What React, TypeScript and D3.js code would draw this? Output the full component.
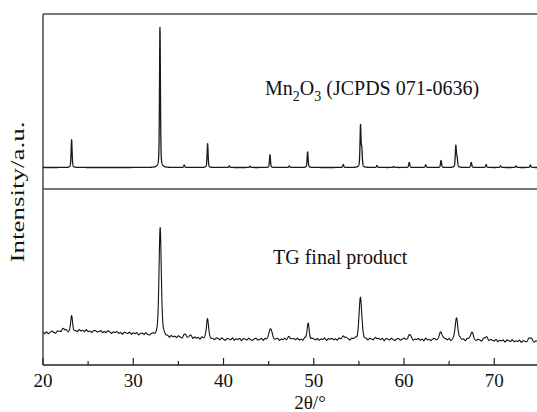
import React, { useMemo } from "react";
import * as d3 from "d3";

// ---- axis data ----
const xDomain = [20, 75];
const xMajorTicks = [20, 30, 40, 50, 60, 70];
const xMinorTicks = [25, 35, 45, 55, 65, 75];

// ---- Mn2O3 reference pattern (JCPDS 071-0636): peak positions (2θ) and relative intensities ----
const refPeakPos = [23.17, 32.96, 35.65, 38.24, 40.64, 42.93, 45.15, 47.29, 49.32, 53.27, 55.18, 55.32, 57.0, 58.85, 60.58, 62.4, 64.1, 65.74, 65.88, 67.45, 69.1, 70.7, 72.4, 74.0];
const refPeakInt = [19.8, 100, 1.8, 17, 1.1, 0.9, 9.1, 1.1, 11.2, 2.1, 29.5, 12, 1.4, 0.7, 3.6, 1.8, 5, 15.2, 6.5, 3.6, 2.1, 1.1, 1.1, 1.8];
const refPeakFwhm = [0.13, 0.12, 0.13, 0.13, 0.13, 0.13, 0.13, 0.13, 0.13, 0.13, 0.13, 0.13, 0.13, 0.13, 0.14, 0.14, 0.14, 0.14, 0.14, 0.14, 0.14, 0.14, 0.14, 0.14];

// ---- TG final product: peaks, background, noise ----
const prodPeakPos = [22.3, 23.17, 32.98, 35.7, 36.3, 38.22, 45.2, 47.3, 49.38, 53.3, 55.17, 57.0, 60.6, 64.1, 65.82, 67.5, 69.1, 74.0];
const prodPeakInt = [2, 14.5, 108, 2.5, 1.5, 20.5, 11.5, 3, 16, 3.5, 43, 1.5, 4.5, 7.5, 22.5, 7.5, 3.5, 4];
const prodPeakFwhm = [0.5, 0.24, 0.3, 0.35, 0.35, 0.26, 0.36, 0.35, 0.28, 0.35, 0.34, 0.35, 0.4, 0.4, 0.34, 0.4, 0.4, 0.45];

const prodBgPos = [20, 22, 24, 26, 28, 30, 31, 32, 34, 36, 38, 40, 44, 50, 54, 56, 60, 64, 68, 72, 75];
const prodBgInt = [11.7, 13.5, 14.2, 13.5, 12.5, 11.5, 11, 10, 8, 7.5, 6.5, 5.8, 5.5, 5.5, 5.8, 5.5, 5.5, 5.2, 4.8, 4, 3];

// noise, one value every 0.2° from 20°
const prodNoise = [
  0.8, -0.6, 1.2, -1.1, 0.3, 1.5, -0.4, -1.3, 0.9, 0.2, -0.8, 1.4, -0.2, 0.6, -1.5, 0.4, 1.1, -0.7, 0.1, -1.2,
  1.3, -0.3, 0.7, -0.9, 1.6, -0.5, 0.2, -1.4, 0.8, 1.0, -0.6, -0.1, 1.2, -1.0, 0.5, -0.8, 1.5, 0.3, -1.3, 0.6,
  -0.2, 1.1, -0.9, 0.4, -1.6, 0.9, 0.1, -0.5, 1.3, -1.1, 0.7, -0.3, 1.0, -1.4, 0.2, 0.8, -0.7, 1.4, -0.4, -1.0,
  0.6, 1.2, -0.8, 0.3, -1.2, 0.9, -0.1, 1.5, -0.6, 0.4, -1.3, 1.1, -0.2, 0.7, -0.9, 1.3, 0.0, -1.5, 0.5, 1.0,
  -0.7, 0.2, 1.4, -1.1, 0.8, -0.4, 0.6, -1.3, 1.2, -0.3, 0.9, -0.8, 1.6, -0.5, 0.1, -1.2, 1.0, 0.4, -0.9, 1.3,
  -0.1, -1.4, 0.7, 0.3, -0.6, 1.5, -1.0, 0.5, -0.2, 1.1, -1.5, 0.8, 0.2, -0.7, 1.4, -0.4, -1.1, 0.6, 1.2, -0.8,
  0.0, 1.0, -1.3, 0.9, -0.3, 0.5, -1.0, 1.6, -0.6, 0.3, 1.1, -1.2, 0.4, -0.5, 1.3, -0.9, 0.7, -1.4, 0.2, 0.8,
  -0.4, 1.2, -0.8, 0.1, -1.1, 1.4, -0.2, 0.6, -1.5, 0.9, 0.3, -0.7, 1.0, -1.0, 0.5, -0.3, 1.5, -1.3, 0.8, -0.1,
  1.1, -0.6, 0.4, -1.2, 1.3, -0.4, 0.0, -0.9, 1.4, 0.2, -1.4, 0.7, -0.2, 1.0, -0.8, 0.6, -1.1, 1.2, -0.5, 0.3,
  -1.3, 0.9, 0.1, -0.7, 1.5, -1.0, 0.4, -0.3, 1.1, -1.5, 0.8, 0.5, -0.6, 1.3, -0.2, -1.2, 0.7, 1.0, -0.9, 0.2,
  1.4, -0.5, -1.1, 0.6, 0.9, -1.3, 0.3, -0.1, 1.2, -0.8, 0.5, -1.4, 1.6, -0.3, 0.1, -1.0, 0.8, 1.1, -0.7, -0.2,
  1.3, -1.2, 0.4, 0.7, -0.6, 1.0, -1.5, 0.2, 0.9, -0.4, -1.0, 1.5, -0.1, 0.6, -1.3, 1.1, 0.3, -0.8, 1.2, -0.5,
  -0.9, 0.8, 0.0, -1.4, 1.4, -0.3, 0.5, -1.1, 1.0, 0.2, -0.7, 1.3, -1.2, 0.4, -0.2, 0.9, -1.5, 1.1, 0.1, -0.6,
  1.5, -0.9, 0.3, -0.4, 1.2, -1.3, 0.7, 0.0, -1.0, 1.1, -0.5, 0.6, -1.2, 0.8, 0.4, -0.8
];

const labels = {
  refName: "(JCPDS 071-0636)",
  prodName: "TG final product",
  xTitle: "2θ/°",
  yTitle: "Intensity/a.u.",
};

function pseudoVoigt(x: number, c: number, h: number, w: number, eta: number) {
  const d = (x - c) / (w / 2);
  const L = 1 / (1 + d * d);
  const G = Math.exp(-Math.LN2 * d * d);
  return h * (eta * L + (1 - eta) * G);
}

const FONT = "'Liberation Serif', 'Times New Roman', Times, serif";

export default function App() {
  const W = 537;
  const H = 412;
  const left = 43;
  const plotTop = 14;
  const divider = 189;
  const bottom = 365;

  const x = d3.scaleLinear().domain(xDomain).range([left, 539.4]);
  const yTop = d3.scaleLinear().domain([0, 100]).range([167.5, 27.5]);
  const yBot = d3.scaleLinear().domain([0, 120]).range([345, 225]);

  const { topPath, botPath } = useMemo(() => {
    const xs = d3.range(xDomain[0], xDomain[1] + 1e-9, 0.01);
    const topPts: [number, number][] = xs.map((t) => {
      let v = 0;
      for (let i = 0; i < refPeakPos.length; i++) v += pseudoVoigt(t, refPeakPos[i], refPeakInt[i], refPeakFwhm[i], 0.45);
      return [t, v];
    });
    const bg = d3.scaleLinear().domain(prodBgPos).range(prodBgInt);
    const xs2 = d3.range(xDomain[0], xDomain[1] + 1e-9, 0.025);
    const botPts: [number, number][] = xs2.map((t) => {
      let v = bg(t);
      for (let i = 0; i < prodPeakPos.length; i++) v += pseudoVoigt(t, prodPeakPos[i], prodPeakInt[i], prodPeakFwhm[i], 0.4);
      const f = (t - xDomain[0]) / 0.2;
      const i0 = Math.min(Math.floor(f), prodNoise.length - 1);
      const i1 = Math.min(i0 + 1, prodNoise.length - 1);
      const fr = f - Math.floor(f);
      v += 0.95 * (prodNoise[i0] * (1 - fr) + prodNoise[i1] * fr);
      return [t, v];
    });
    const lt = d3.line<[number, number]>().x((d) => x(d[0])).y((d) => yTop(d[1]));
    const lb = d3.line<[number, number]>().x((d) => x(d[0])).y((d) => yBot(d[1]));
    return { topPath: lt(topPts) || "", botPath: lb(botPts) || "" };
  }, []);

  const frame = "#4a4a4a";

  return (
    <svg
      width={W}
      height={H}
      style={{ position: "absolute", left: 0, top: 0, background: "#fff", fontFamily: FONT }}
    >
      <rect x={0} y={0} width={W} height={H} fill="#fff" />
      {/* frame */}
      <line x1={left} x2={x(75)} y1={plotTop} y2={plotTop} stroke={frame} strokeWidth={1.5} />
      <line x1={left} x2={x(75)} y1={divider} y2={divider} stroke={frame} strokeWidth={1.5} />
      <line x1={left} x2={x(75)} y1={bottom} y2={bottom} stroke="#222" strokeWidth={1.3} />
      <line x1={left} x2={left} y1={plotTop} y2={bottom} stroke={frame} strokeWidth={1.5} />
      <line x1={x(75)} x2={x(75)} y1={plotTop} y2={bottom} stroke={frame} strokeWidth={1.5} />

      {/* ticks */}
      {xMajorTicks.map((t) => (
        <g key={"M" + t}>
          <line x1={x(t)} x2={x(t)} y1={bottom} y2={bottom - 7} stroke="#222" strokeWidth={1.2} />
          <text x={x(t)} y={387} textAnchor="middle" fontSize={19} fill="#111">
            {t}
          </text>
        </g>
      ))}
      {xMinorTicks.map((t) => (
        <line key={"m" + t} x1={x(t)} x2={x(t)} y1={bottom} y2={bottom - 4} stroke="#222" strokeWidth={1.2} />
      ))}

      {/* data */}
      <path d={topPath} fill="none" stroke="#1a1a1a" strokeWidth={1.3} strokeLinejoin="round" />
      <path d={botPath} fill="none" stroke="#111" strokeWidth={1.1} strokeLinejoin="round" />

      {/* annotations */}
      <text x={265} y={95} fontSize={20} fill="#111">
        Mn
        <tspan fontSize={14} dy={6}>2</tspan>
        <tspan dy={-6}>O</tspan>
        <tspan fontSize={14} dy={6}>3</tspan>
        <tspan dy={-6}> {labels.refName}</tspan>
      </text>
      <text x={273} y={264} fontSize={20} fill="#111">
        {labels.prodName}
      </text>

      {/* axis titles */}
      <text x={310} y={409} textAnchor="middle" fontSize={19} fill="#111">
        {labels.xTitle}
      </text>
      <text
        transform={`translate(24,192) rotate(-90)`}
        textAnchor="middle"
        fontSize={19}
        fill="#111"
        textLength={141}
        lengthAdjust="spacingAndGlyphs"
      >
        {labels.yTitle}
      </text>
    </svg>
  );
}
